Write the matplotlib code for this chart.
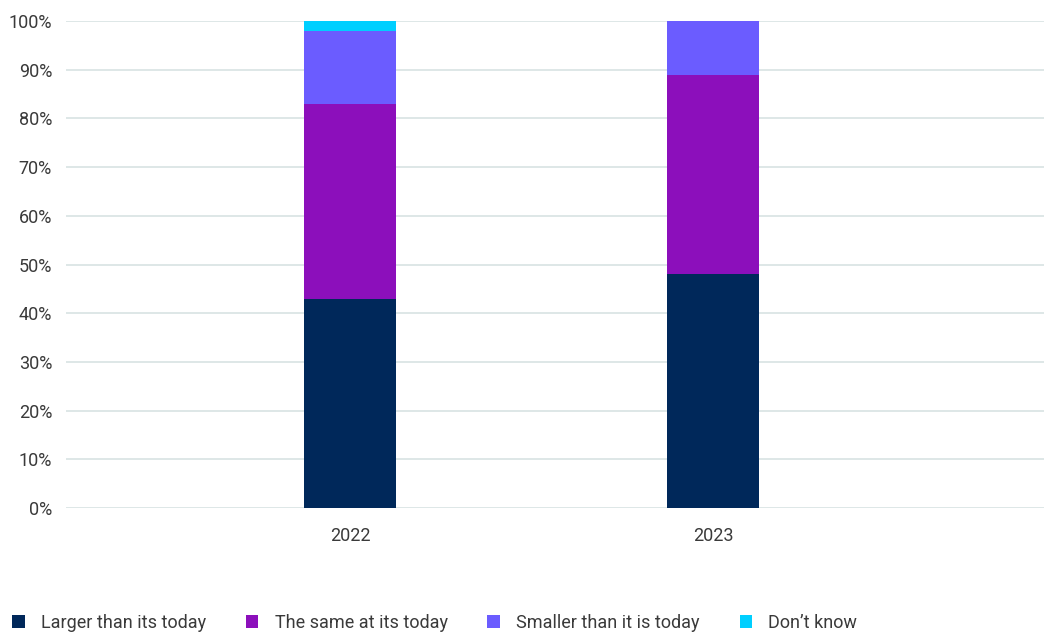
import matplotlib.pyplot as plt
from matplotlib.patches import Patch
from matplotlib.ticker import PercentFormatter

years = ["2022", "2023"]
larger = [43, 48]
same = [40, 41]
smaller = [15, 11]
dont_know = [2, 0]

series = [
    ("Larger than its today", larger, "#00285a"),
    ("The same at its today", same, "#8c0fbb"),
    ("Smaller than it is today", smaller, "#6b5cff"),
    ("Don\u2019t know", dont_know, "#00cfff"),
]

plt.rcParams['font.family'] = ['Roboto', 'DejaVu Sans']

fig = plt.figure(figsize=(10.44, 6.35), dpi=100)
ax = fig.add_axes([66 / 1044, 1 - 508 / 635, 1 - 66 / 1044, (508 - 21) / 635])

x = list(range(len(years)))
bottom = [0] * len(years)
for name, vals, color in series:
    ax.bar(x, vals, width=0.253, bottom=bottom, color=color, label=name, zorder=3)
    bottom = [b + v for b, v in zip(bottom, vals)]

ax.set_ylim(0, 100)
ax.set_xlim(-0.782, 1.912)
ax.set_yticks(range(0, 101, 10))
ax.yaxis.set_major_formatter(PercentFormatter(decimals=0))
ax.set_xticks(x)
ax.set_xticklabels(years)
ax.grid(axis="y", color="#d8e3e3", linewidth=1.2, zorder=0)
for s in ax.spines.values():
    s.set_visible(False)
ax.tick_params(length=0, labelsize=13, labelcolor="#3a3a3a")
ax.tick_params(axis="y", pad=10)
ax.tick_params(axis="x", pad=14)

handles = [Patch(facecolor=c, label=n) for n, v, c in series]
fig.legend(handles=handles, loc="lower left", bbox_to_anchor=(-0.004, -0.021), ncol=4,
           frameon=False, fontsize=13, labelcolor="#3a3a3a",
           handlelength=0.7, handleheight=0.7, handletextpad=0.9, columnspacing=2.2)

fig.savefig("out.png", dpi=100)
